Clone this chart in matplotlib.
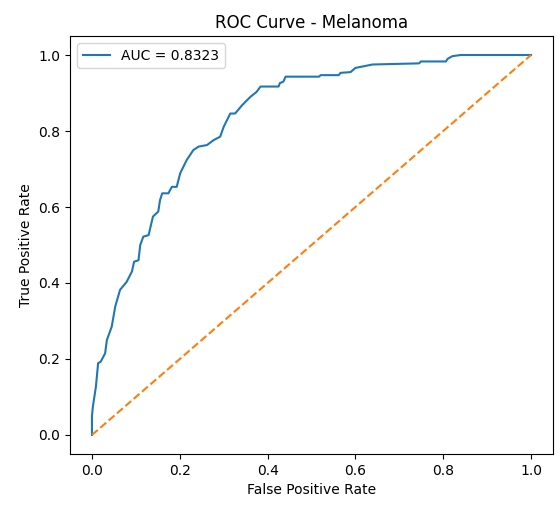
import matplotlib
matplotlib.use("Agg")
import matplotlib.pyplot as plt

fpr = [0, 0, 0.002, 0.009, 0.014, 0.020, 0.030, 0.034, 0.045, 0.053, 0.064, 0.079,
       0.091, 0.096, 0.106, 0.110, 0.117, 0.129, 0.139, 0.151, 0.155, 0.160, 0.174,
       0.182, 0.193, 0.201, 0.216, 0.231, 0.243, 0.262, 0.277, 0.292, 0.300, 0.315,
       0.326, 0.342, 0.361, 0.375, 0.384, 0.425, 0.428, 0.436, 0.441, 0.517, 0.521,
       0.562, 0.566, 0.589, 0.600, 0.639, 0.745, 0.749, 0.806, 0.810, 0.821, 0.840, 1.0]
tpr = [0, 0.05, 0.074, 0.127, 0.189, 0.193, 0.215, 0.25, 0.285, 0.338, 0.382, 0.403,
       0.43, 0.456, 0.46, 0.5, 0.522, 0.526, 0.575, 0.588, 0.618, 0.636, 0.636,
       0.653, 0.653, 0.689, 0.724, 0.75, 0.759, 0.763, 0.776, 0.785, 0.811, 0.846,
       0.846, 0.868, 0.89, 0.903, 0.917, 0.917, 0.926, 0.93, 0.943, 0.943, 0.947,
       0.947, 0.953, 0.955, 0.966, 0.975, 0.978, 0.983, 0.983, 0.99, 0.997, 1.0, 1.0]
auc_label = "AUC = 0.8323"
diag = [0, 1]

fig = plt.figure(figsize=(5.6, 5.05), dpi=100)
ax = fig.add_axes([0.125, 0.101, 0.8625, 0.8277])
ax.plot(fpr, tpr, label=auc_label)
ax.plot(diag, diag, linestyle="--")
ax.set_title("ROC Curve - Melanoma")
ax.set_xlabel("False Positive Rate")
ax.set_ylabel("True Positive Rate")
ax.legend(loc="upper left")
fig.savefig("out.png", dpi=100)
